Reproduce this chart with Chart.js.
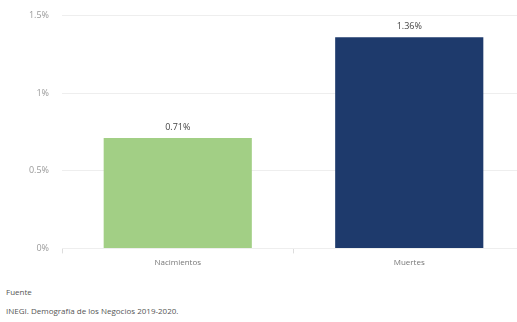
<!DOCTYPE html>
<html>
<head>
<meta charset="utf-8">
<script src="https://cdn.jsdelivr.net/npm/chart.js@4"></script>
<style>
  body { margin: 0; background: #fff; overflow: hidden; font-family: "Open Sans", sans-serif; }
  #wrap { position: relative; width: 525px; height: 276px; margin-top: -3px; }
  .foot { position: absolute; left: 6px; font-size: 8px; color: #555; }
</style>
</head>
<body>
<div id="wrap"><canvas id="myChart1"></canvas></div>
<div class="foot" style="top:286px">Fuente</div>
<div class="foot" style="top:305px">INEGI. Demografía de los Negocios 2019-2020.</div>
<script>
// valores
const categorias = ['Nacimientos', 'Muertes'];
const valores = [0.71, 1.36];
const etiquetas = ['0.71%', '1.36%'];
const colores = ['#a2cf85', '#1e3a6c'];
const ticksY = [0, 0.5, 1, 1.5];

// etiqueta encima de cada barra
const etiquetasPlugin = {
  id: 'etiquetas',
  afterDatasetsDraw(chart) {
    const c = chart.ctx;
    const meta = chart.getDatasetMeta(0);
    c.save();
    c.font = '9px "Open Sans", sans-serif';
    c.fillStyle = '#444';
    c.textAlign = 'center';
    c.textBaseline = 'bottom';
    meta.data.forEach(function(bar, i) {
      c.fillText(etiquetas[i], bar.x, bar.y - 6);
    });
    c.restore();
  }
};

const ctx = document.getElementById('myChart1');
const myChart1 = new Chart(ctx, {
  type: 'bar',
  data: {
    labels: categorias,
    datasets: [{
      data: valores,
      backgroundColor: colores,
      barPercentage: 0.64,
      categoryPercentage: 1
    }]
  },
  options: {
    responsive: true,
    maintainAspectRatio: false,
    animation: false,
    layout: { padding: { top: 4, right: 0, left: 0, bottom: 0 } },
    plugins: { legend: { display: false }, tooltip: { enabled: false } },
    scales: {
      y: {
        min: 0,
        max: 1.5,
        afterBuildTicks: function(axis) {
          axis.ticks = ticksY.map(v => ({ value: v }));
        },
        afterFit: function(axis) { axis.width = 62; },
        border: { display: false },
        grid: { color: '#eeeeee', drawTicks: false },
        ticks: {
          padding: 13,
          color: '#999',
          font: { size: 9, family: '"Open Sans", sans-serif' },
          callback: v => v + '%'
        }
      },
      x: {
        border: { color: '#eeeeee' },
        grid: { drawOnChartArea: false, offset: true, color: '#dddddd', tickLength: 5 },
        ticks: {
          padding: 5,
          color: '#777',
          font: { size: 8, family: '"Open Sans", sans-serif' }
        }
      }
    }
  },
  plugins: [etiquetasPlugin]
});
</script>
</body>
</html>
